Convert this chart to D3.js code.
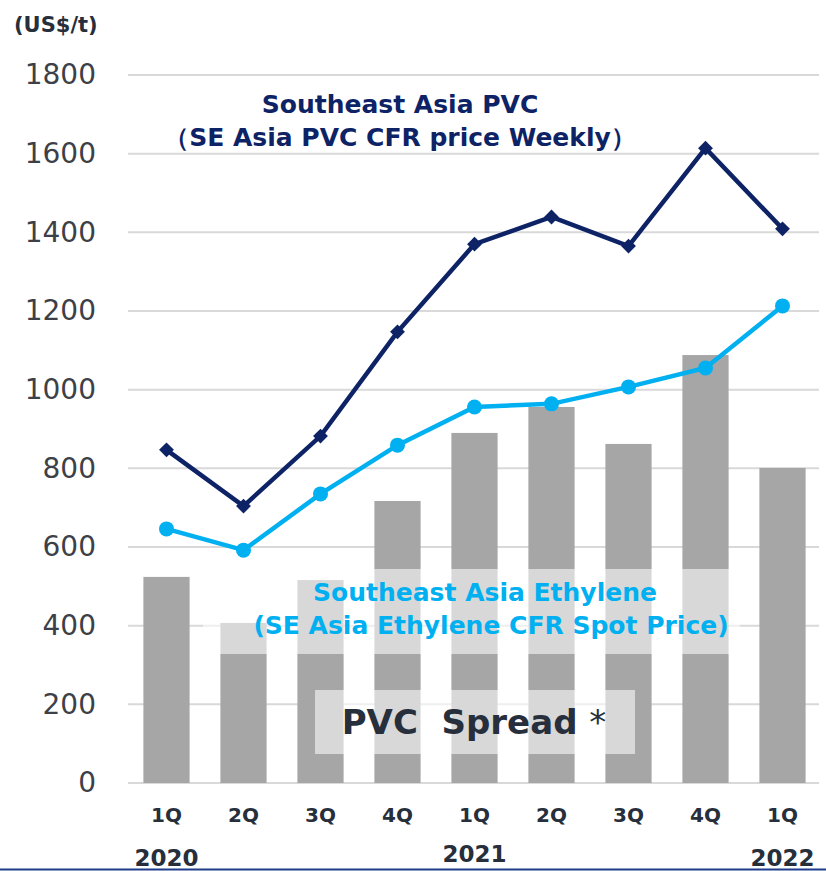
<!DOCTYPE html>
<html>
<head>
<meta charset="utf-8">
<script src="https://cdn.jsdelivr.net/npm/d3@7"></script>
<style>
  body { margin: 0; background: #fff; }
  svg { display: block; }
  text { font-family: "DejaVu Sans", Verdana, sans-serif; }
</style>
</head>
<body>
<div id="chart"></div>
<script>
// chart data
var quarters = ['1Q', '2Q', '3Q', '4Q', '1Q', '2Q', '3Q', '4Q', '1Q'];
var periods = ['2020Q1', '2020Q2', '2020Q3', '2020Q4', '2021Q1', '2021Q2', '2021Q3', '2021Q4', '2022Q1'];
var spread = [524, 407, 516, 717, 890, 956, 862, 1088, 801];
var pvcPrice = [847, 704, 882, 1147, 1370, 1439, 1365, 1614, 1409];
var ethylenePrice = [646, 592, 735, 859, 956, 964, 1007, 1055, 1213];
var yTicks = [0, 200, 400, 600, 800, 1000, 1200, 1400, 1600, 1800];
var years = [
	{ label: '2020', at: '2020Q1', dy: 0 },
	{ label: '2021', at: '2021Q1', dy: -4 },
	{ label: '2022', at: '2022Q1', dy: 0 }
];

var width = 826,
	height = 871,
	plotLeft = 128,
	plotRight = 821,
	plotTop = 75,
	plotBottom = 783;

var navy = '#0d2366',
	cyan = '#00b0f0',
	barGrey = '#a6a6a6',
	tickColor = '#3c4048',
	darkText = '#262f3b';

var svg = d3.select('#chart')
	.append('svg')
	.attr('width', width)
	.attr('height', height);

var x = d3.scaleBand()
	.domain(periods)
	.range([plotLeft, plotRight])
	.paddingInner(0.4)
	.paddingOuter(0.2);

var xc = function(p) { return x(p) + x.bandwidth() / 2; };

var y = d3.scaleLinear()
	.domain([0, 1800])
	.range([plotBottom, plotTop]);

// gridlines
svg.append('g')
	.selectAll('line')
	.data(yTicks)
	.enter()
	.append('line')
	.attr('x1', plotLeft)
	.attr('x2', plotRight - 2)
	.attr('y1', function(d) { return y(d); })
	.attr('y2', function(d) { return y(d); })
	.attr('stroke', '#d9d9d9')
	.attr('stroke-width', 2);

// y axis labels
var yAxis = d3.axisLeft(y)
	.tickValues(yTicks)
	.tickFormat(d3.format('d'))
	.tickSize(0)
	.tickPadding(0);
var yg = svg.append('g')
	.attr('transform', 'translate(96,0)')
	.call(yAxis);
yg.select('.domain').remove();
yg.selectAll('text')
	.attr('font-family', '"DejaVu Sans", Verdana, sans-serif')
	.attr('font-size', 28)
	.attr('fill', tickColor);

// spread bars
svg.append('g')
	.selectAll('rect')
	.data(spread)
	.enter()
	.append('rect')
	.attr('x', function(d, i) { return x(periods[i]); })
	.attr('y', function(d) { return y(d); })
	.attr('width', x.bandwidth())
	.attr('height', function(d) { return plotBottom - y(d); })
	.attr('fill', barGrey);

// translucent label boxes over the bars
svg.append('rect')
	.attr('x', 203).attr('y', 569)
	.attr('width', 537).attr('height', 85)
	.attr('fill', '#fff').attr('fill-opacity', 0.57);

svg.append('rect')
	.attr('x', 315).attr('y', 690)
	.attr('width', 320).attr('height', 64)
	.attr('fill', '#fff').attr('fill-opacity', 0.57);

// lines
var line = function(values) {
	return d3.line()
		.x(function(d, i) { return xc(periods[i]); })
		.y(function(d) { return y(d); })(values);
};

svg.append('path')
	.attr('d', line(ethylenePrice))
	.attr('fill', 'none')
	.attr('stroke', cyan)
	.attr('stroke-width', 4.5);

svg.append('g')
	.selectAll('circle')
	.data(ethylenePrice)
	.enter()
	.append('circle')
	.attr('cx', function(d, i) { return xc(periods[i]); })
	.attr('cy', function(d) { return y(d); })
	.attr('r', 7.5)
	.attr('fill', cyan);

svg.append('path')
	.attr('d', line(pvcPrice))
	.attr('fill', 'none')
	.attr('stroke', navy)
	.attr('stroke-width', 4.5);

var diamond = d3.symbol().type(d3.symbolSquare).size(110);
svg.append('g')
	.selectAll('path')
	.data(pvcPrice)
	.enter()
	.append('path')
	.attr('d', diamond)
	.attr('transform', function(d, i) {
		return 'translate(' + xc(periods[i]) + ',' + y(d) + ') rotate(45)';
	})
	.attr('fill', navy);

// x axis: quarters and years
svg.append('g')
	.selectAll('text')
	.data(quarters)
	.enter()
	.append('text')
	.attr('x', function(d, i) { return xc(periods[i]); })
	.attr('y', 822)
	.attr('text-anchor', 'middle')
	.attr('font-weight', 'bold')
	.attr('font-size', 20)
	.attr('fill', darkText)
	.text(function(d) { return d; });

svg.append('g')
	.selectAll('text')
	.data(years)
	.enter()
	.append('text')
	.attr('x', function(d) { return xc(d.at); })
	.attr('y', function(d) { return 866 + d.dy; })
	.attr('text-anchor', 'middle')
	.attr('font-weight', 'bold')
	.attr('font-size', 23)
	.attr('fill', darkText)
	.text(function(d) { return d.label; });

// unit
svg.append('text')
	.attr('x', 14).attr('y', 32)
	.attr('font-weight', 'bold')
	.attr('font-size', 21)
	.attr('fill', darkText)
	.text('(US$/t)');

// series labels
svg.append('text')
	.attr('x', 400).attr('y', 113)
	.attr('text-anchor', 'middle')
	.attr('font-weight', 'bold')
	.attr('font-size', 25)
	.attr('fill', navy)
	.text('Southeast Asia PVC');

svg.append('text')
	.attr('x', 400).attr('y', 146)
	.attr('text-anchor', 'middle')
	.attr('font-weight', 'bold')
	.attr('font-size', 25)
	.attr('fill', navy)
	.text('（SE Asia PVC CFR price Weekly）');

svg.append('text')
	.attr('x', 485).attr('y', 601)
	.attr('text-anchor', 'middle')
	.attr('font-weight', 'bold')
	.attr('font-size', 25)
	.attr('fill', cyan)
	.text('Southeast Asia Ethylene');

svg.append('text')
	.attr('x', 491).attr('y', 634)
	.attr('text-anchor', 'middle')
	.attr('font-weight', 'bold')
	.attr('font-size', 25)
	.attr('fill', cyan)
	.text('(SE Asia Ethylene CFR Spot Price)');

var spreadLabel = svg.append('text')
	.attr('x', 474).attr('y', 734)
	.attr('text-anchor', 'middle')
	.attr('font-size', 34)
	.attr('fill', darkText)
	.attr('xml:space', 'preserve');
spreadLabel.append('tspan').attr('font-weight', 'bold').text('PVC  Spread ');
spreadLabel.append('tspan').attr('font-weight', 'normal').text('*');

// bottom rule
svg.append('line')
	.attr('x1', 0).attr('x2', width)
	.attr('y1', 869.5).attr('y2', 869.5)
	.attr('stroke', '#1f3c88')
	.attr('stroke-width', 2);
</script>
</body>
</html>
